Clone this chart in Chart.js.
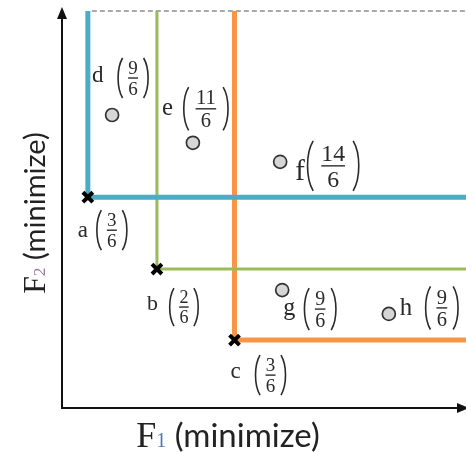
<!DOCTYPE html>
<html>
<head>
<meta charset="utf-8">
<script src="https://cdn.jsdelivr.net/npm/chart.js@4/dist/chart.umd.min.js"></script>
<style>
  html, body { margin: 0; padding: 0; background: #ffffff; }
  #wrap { width: 466px; height: 452px; }
</style>
</head>
<body>
<div id="wrap"><canvas id="c" width="466" height="452"></canvas></div>
<script>
// ---- data (F1, F2 in arbitrary 0..10 units) ----
const solutionNames = ['a', 'b', 'c', 'd', 'e', 'f', 'g', 'h'];
const f1Values = [0.64, 2.35, 4.27, 1.24, 3.24, 5.40, 5.45, 8.09];
const f2Values = [5.31, 3.50, 1.71, 7.38, 6.68, 6.20, 2.97, 2.37];
const numerators = [3, 2, 3, 9, 11, 14, 9, 9];
const denominators = [6, 6, 6, 6, 6, 6, 6, 6];
const frontNames = ['a', 'b', 'c'];          // non-dominated (crosses)
const otherNames = ['d', 'e', 'f', 'g', 'h']; // dominated (circles)
const axisMax = 10;
const xTitle = ['F', '1', ' (minimize)'];
const yTitle = ['F', '2', ' (minimize)'];

// ---- styles ----
const frontColors = { a: '#4bacc6', b: '#9bbb59', c: '#f79646' };
const frontWidths = { a: 5, b: 3, c: 5 };
// label layout: letter offset, fraction-centre offset (px from the point), scale
const labelLayout = {
  a: { l: [-10, 40], f: [24, 33], s: 1.0 },
  b: { l: [-10, 41], f: [27, 38], s: 0.95 },
  c: { l: [-4, 38], f: [36, 35], s: 1.0 },
  d: { l: [-20, -33], f: [21, -37], s: 1.0 },
  e: { l: [-31, -28], f: [13, -34], s: 1.08 },
  f: { l: [15, 18], f: [53, 4], s: 1.25 },
  g: { l: [1, 25], f: [38, 19], s: 1.05 },
  h: { l: [11, 1], f: [53, -6], s: 1.08 }
};

const idx = n => solutionNames.indexOf(n);
const pt = n => ({ x: f1Values[idx(n)], y: f2Values[idx(n)] });

const datasets = [];
// dashed top boundary
datasets.push({
  type: 'line',
  data: [{ x: f1Values[idx('a')] + 0.1, y: axisMax }, { x: axisMax, y: axisMax }],
  borderColor: '#555555', borderWidth: 1, borderDash: [5, 3],
  pointRadius: 0, fill: false, clip: false, order: 5
});
// dominated-region boundaries of the front points
frontNames.forEach(n => {
  const p = pt(n);
  datasets.push({
    type: 'line',
    data: [{ x: p.x, y: axisMax }, { x: p.x, y: p.y }, { x: axisMax, y: p.y }],
    borderColor: frontColors[n], borderWidth: frontWidths[n],
    borderJoinStyle: 'miter', borderCapStyle: 'butt',
    pointRadius: 0, fill: false, clip: false, tension: 0, order: 4
  });
});
// crosses
datasets.push({
  type: 'scatter',
  data: frontNames.map(pt),
  pointStyle: 'crossRot', pointRadius: 7, borderWidth: 4,
  borderColor: '#000000', backgroundColor: '#000000', clip: false, order: 1
});
// circles
datasets.push({
  type: 'scatter',
  data: otherNames.map(pt),
  pointStyle: 'circle', pointRadius: 6.5, borderWidth: 1.7,
  borderColor: '#333333', backgroundColor: '#d6d6d6', clip: false, order: 1
});

function drawParen(ctx, x, top, bottom, w, left) {
  const h = bottom - top;
  ctx.beginPath();
  if (left) {
    ctx.moveTo(x + w, top);
    ctx.bezierCurveTo(x - w * 0.5, top + h * 0.25, x - w * 0.5, bottom - h * 0.25, x + w, bottom);
  } else {
    ctx.moveTo(x - w, top);
    ctx.bezierCurveTo(x + w * 0.5, top + h * 0.25, x + w * 0.5, bottom - h * 0.25, x - w, bottom);
  }
  ctx.stroke();
}

const decor = {
  id: 'decor',
  beforeDatasetsDraw(chart) {
    const ctx = chart.ctx, a = chart.chartArea;
    ctx.save();
    ctx.strokeStyle = '#111'; ctx.fillStyle = '#111'; ctx.lineWidth = 2;
    // y axis with arrow
    ctx.beginPath(); ctx.moveTo(a.left, a.bottom + 1); ctx.lineTo(a.left, a.top + 6); ctx.stroke();
    ctx.beginPath(); ctx.moveTo(a.left, a.top - 4); ctx.lineTo(a.left - 5, a.top + 8); ctx.lineTo(a.left + 5, a.top + 8); ctx.closePath(); ctx.fill();
    // x axis with arrow
    ctx.beginPath(); ctx.moveTo(a.left - 1, a.bottom); ctx.lineTo(a.right - 6, a.bottom); ctx.stroke();
    ctx.beginPath(); ctx.moveTo(a.right + 3, a.bottom); ctx.lineTo(a.right - 9, a.bottom - 5); ctx.lineTo(a.right - 9, a.bottom + 5); ctx.closePath(); ctx.fill();
    ctx.restore();
  },
  afterDraw(chart) {
    const ctx = chart.ctx;
    const xs = chart.scales.x, ys = chart.scales.y;
    ctx.save();
    ctx.fillStyle = '#2a2a2a'; ctx.strokeStyle = '#2a2a2a';
    // point labels
    solutionNames.forEach((n, i) => {
      const L = labelLayout[n];
      const px = xs.getPixelForValue(f1Values[i]);
      const py = ys.getPixelForValue(f2Values[i]);
      const s = L.s;
      ctx.font = (23 * s) + 'px "Liberation Serif", serif';
      ctx.textAlign = 'left'; ctx.textBaseline = 'alphabetic';
      ctx.fillText(n, px + L.l[0], py + L.l[1]);
      const cx = px + L.f[0], cy = py + L.f[1];
      const num = String(numerators[i]), den = String(denominators[i]);
      const halfW = (num.length > 1 ? 23 : 17.5) * s;
      const H = 40 * s;
      ctx.lineWidth = 1.6;
      drawParen(ctx, cx - halfW + 3 * s, cy - H / 2, cy + H / 2, 4 * s, true);
      drawParen(ctx, cx + halfW - 3 * s, cy - H / 2, cy + H / 2, 4 * s, false);
      ctx.font = (19 * s) + 'px "Liberation Serif", serif';
      ctx.textAlign = 'center';
      ctx.fillText(num, cx, cy - 4 * s);
      ctx.fillText(den, cx, cy + 17 * s);
      const bw = (num.length > 1 ? 19 : 10) * s;
      ctx.lineWidth = 1.4;
      ctx.beginPath(); ctx.moveTo(cx - bw / 2, cy); ctx.lineTo(cx + bw / 2, cy); ctx.stroke();
    });
    // axis titles
    function drawTitle(parts, x, y, rot, k, subColor) {
      ctx.save();
      ctx.translate(x, y); ctx.rotate(rot);
      const [F, sub, rest] = parts;
      const fFont = (36 * k) + 'px "Liberation Serif", serif';
      const sFont = (20 * k) + 'px "Liberation Serif", serif';
      const rFont = (33 * k) + 'px Lato, "Open Sans", sans-serif';
      ctx.font = fFont; const wF = ctx.measureText(F).width;
      ctx.font = sFont; const wS = ctx.measureText(sub).width;
      ctx.font = rFont; const wR = ctx.measureText(rest).width;
      let xx = -(wF + wS + wR) / 2;
      ctx.textAlign = 'left'; ctx.textBaseline = 'alphabetic'; ctx.fillStyle = '#222';
      ctx.font = fFont; ctx.fillText(F, xx, 0); xx += wF;
      ctx.font = sFont; ctx.fillStyle = subColor; ctx.fillText(sub, xx, 0); xx += wS;
      ctx.font = rFont; ctx.fillStyle = '#222'; ctx.fillText(rest, xx, 0);
      ctx.restore();
    }
    drawTitle(xTitle, 228, 447, 0, 1.0, '#4a78b8');
    drawTitle(yTitle, 45, 213, -Math.PI / 2, 0.88, '#9a7a9a');
    ctx.restore();
  }
};

new Chart(document.getElementById('c'), {
  data: { datasets },
  options: {
    responsive: false,
    animation: false,
    layout: { autoPadding: false, padding: { left: 62, top: 11, right: 0, bottom: 44 } },
    plugins: { legend: { display: false }, tooltip: { enabled: false } },
    scales: {
      x: { type: 'linear', min: 0, max: axisMax, display: false },
      y: { type: 'linear', min: 0, max: axisMax, display: false }
    }
  },
  plugins: [decor]
});
</script>
</body>
</html>
